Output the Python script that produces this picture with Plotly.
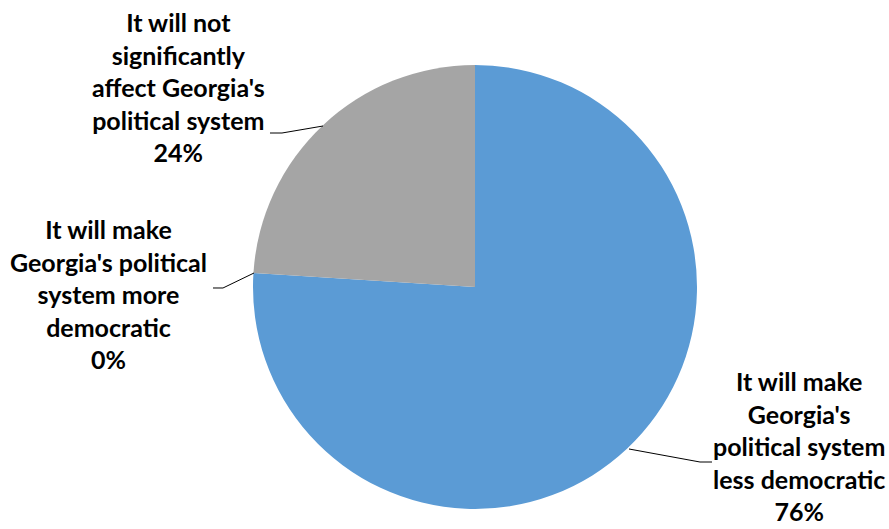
import plotly.graph_objects as go

categories = [
    "It will make Georgia's political system less democratic",
    "It will make Georgia's political system more democratic",
    "It will not significantly affect Georgia's political system",
]
values = [76, 0, 24]
label_texts = [
    "It will make<br>Georgia's<br>political system<br>less democratic<br>76%",
    "It will make<br>Georgia's political<br>system more<br>democratic<br>0%",
    "It will not<br>significantly<br>affect Georgia's<br>political system<br>24%",
]
colors = ["#5B9BD5", "#ED7D31", "#A5A5A5"]

W, H = 889, 529
def px(x):
    return x / W
def py(y):
    return 1 - y / H

cx, cy, r = 475, 287, 222

fig = go.Figure(go.Pie(
    labels=categories,
    values=values,
    sort=False,
    direction="clockwise",
    rotation=0,
    marker=dict(colors=colors, line=dict(width=0)),
    textinfo="none",
    hoverinfo="label+percent",
    showlegend=False,
    domain=dict(x=[px(cx - r), px(cx + r)], y=[py(cy + r), py(cy - r)]),
))

font = dict(family="Lato, Carlito, Calibri, sans-serif", size=25, color="#000000")
# label centers (pixel)
label_pos = [(799, 446), (108, 294), (178, 87)]
for txt, (x, y) in zip(label_texts, label_pos):
    fig.add_annotation(
        x=px(x), y=py(y), xref="paper", yref="paper",
        text="<b>" + txt + "</b>", showarrow=False, align="center",
        font=font, xanchor="center", yanchor="middle",
    )

leaders = [
    [(629, 449), (700, 462), (712, 462)],
    [(254, 273), (223, 288), (213, 288)],
    [(323, 126), (282, 133), (270, 133)],
]
for pts in leaders:
    path = "M " + " L ".join(f"{px(a):.5f},{py(b):.5f}" for a, b in pts)
    fig.add_shape(type="path", path=path, xref="paper", yref="paper",
                  line=dict(color="#000000", width=1))

fig.update_layout(
    width=W, height=H,
    margin=dict(l=0, r=0, t=0, b=0),
    paper_bgcolor="white", plot_bgcolor="white",
)
fig.write_html(
    "out.html",
    config={"displayModeBar": False},
    post_script="document.body.style.margin='0';document.body.style.overflow='hidden';",
)
